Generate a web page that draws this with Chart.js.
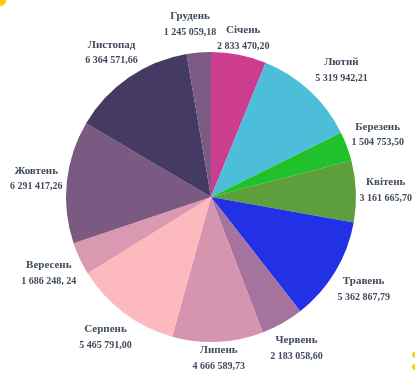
<!DOCTYPE html>
<html lang="uk">
<head>
    <meta charset="UTF-8">
    <title>Надходження по місяцях</title>
    <script src="https://cdn.jsdelivr.net/npm/chart.js"></script>
    <style>
        html, body { margin: 0; padding: 0; background: #fff; }
        .wrap { position: relative; width: 415px; height: 377px; overflow: hidden; }
        .dot { position: absolute; background: #f5d20a; border-radius: 50%; }
    </style>
</head>
<body>
    <div class="wrap">
        <canvas id="pieChart" width="415" height="377"></canvas>
        <div class="dot" style="left:-4px; top:-4px; width:10px; height:10px;"></div>
        <div class="dot" style="left:412px; top:352px; width:6px; height:6px;"></div>
        <div class="dot" style="left:412px; top:364px; width:6px; height:6px;"></div>
    </div>

    <script>
        // Місяці та суми
        const months = ["Січень", "Лютий", "Березень", "Квітень", "Травень", "Червень",
                        "Липень", "Серпень", "Вересень", "Жовтень", "Листопад", "Грудень"];
        const values = [2833470.20, 5319942.21, 1504753.50, 3161665.70, 5362867.79, 2183058.60,
                        4666589.73, 5465791.00, 1686248.24, 6291417.26, 6364571.66, 1245059.18];
        const valueLabels = ["2 833 470,20", "5 319 942,21", "1 504 753,50", "3 161 665,70",
                             "5 362 867,79", "2 183 058,60", "4 666 589,73", "5 465 791,00",
                             "1 686 248, 24", "6 291 417,26", "6 364 571,66", "1 245 059,18"];
        const colors = ["#cc3d8f", "#4cbed9", "#1fc22a", "#5e9f3d", "#2331e6", "#a6739f",
                        "#d595af", "#fdbabe", "#d899b1", "#7a5a82", "#443a64", "#7b5a83"];

        // Підписи навколо кола
        const outerLabels = {
            id: 'outerLabels',
            afterDraw(chart, args, opts) {
                const ctx = chart.ctx;
                const meta = chart.getDatasetMeta(0);
                const nudge = opts.nudge || {};
                ctx.save();
                ctx.fillStyle = '#3f4b5b';
                ctx.textAlign = 'center';
                ctx.textBaseline = 'middle';
                meta.data.forEach((arc, i) => {
                    const mid = (arc.startAngle + arc.endAngle) / 2;
                    const ux = Math.cos(mid), uy = Math.sin(mid);
                    ctx.font = 'bold 11px "Liberation Serif", serif';
                    const w1 = ctx.measureText(months[i]).width;
                    ctx.font = 'bold 10px "Liberation Serif", serif';
                    const w2 = ctx.measureText(valueLabels[i]).width;
                    const w = Math.max(w1, w2) / 2;
                    const h = 15;
                    const d = arc.outerRadius + 3 + Math.abs(ux) * w + Math.abs(uy) * h;
                    const n = nudge[i] || [0, 0];
                    const x = arc.x + ux * d + n[0];
                    const y = arc.y + uy * d + n[1];
                    ctx.font = 'bold 11px "Liberation Serif", serif';
                    ctx.fillText(months[i], x, y - 8);
                    ctx.font = 'bold 10px "Liberation Serif", serif';
                    ctx.fillText(valueLabels[i], x, y + 8);
                });
                ctx.restore();
            }
        };

        const ctx = document.getElementById('pieChart').getContext('2d');
        new Chart(ctx, {
            type: 'pie',
            data: {
                labels: months,
                datasets: [{
                    data: values,
                    backgroundColor: colors,
                    borderWidth: 0
                }]
            },
            options: {
                responsive: false,
                animation: false,
                layout: { padding: { left: 66, right: 59, top: 52, bottom: 35 } },
                plugins: {
                    legend: { display: false },
                    tooltip: { enabled: false },
                    outerLabels: {
                        nudge: { 0: [0, 6], 1: [10, 3], 6: [0, -3], 11: [-7, -8] }
                    }
                }
            },
            plugins: [outerLabels]
        });
    </script>
</body>
</html>
